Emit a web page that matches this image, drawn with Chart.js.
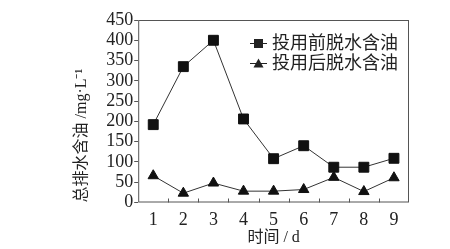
<!DOCTYPE html>
<html>
<head>
<meta charset="utf-8">
<script src="https://cdn.jsdelivr.net/npm/chart.js@4"></script>
<style>
  html, body { margin: 0; padding: 0; background: #fff; }
  #wrap { width: 450px; height: 249px; }
</style>
</head>
<body>
<div id="wrap"><canvas id="oilChart"></canvas></div>
<script>
// Chart data
const days = ["1", "2", "3", "4", "5", "6", "7", "8", "9"];
const beforeLabel = "投用前脱水含油";
const afterLabel = "投用后脱水含油";
const beforeValues = [192, 335, 400, 206, 108, 140, 87, 87, 109];
const afterValues = [66, 23, 48, 28, 28, 32, 62, 27, 61];
const yTicks = [0, 50, 100, 150, 200, 250, 300, 350, 400, 450];

const FONT = "'Liberation Serif', 'Noto Sans CJK SC', serif";
const INK = "#222";

// Frame, inward x ticks and the in-plot legend
const framePlugin = {
  id: "frame",
  afterDatasetsDraw(chart) {
    const { ctx, chartArea: a, scales } = chart;
    ctx.save();
    ctx.strokeStyle = "#555";
    ctx.lineWidth = 1;
    ctx.strokeRect(a.left + 0.5, a.top + 0.5, a.right - a.left - 1, a.bottom - a.top - 1);

    // short inward tick marks between days
    const x = scales.x;
    ctx.beginPath();
    for (let i = 0; i < days.length - 1; i++) {
      const px = Math.round((x.getPixelForValue(i) + x.getPixelForValue(i + 1)) / 2) + 0.5;
      ctx.moveTo(px, a.bottom);
      ctx.lineTo(px, a.bottom - 4);
    }
    ctx.stroke();

    // legend
    ctx.font = "18px " + FONT;
    ctx.textBaseline = "middle";
    ctx.fillStyle = INK;
    chart.data.datasets.forEach((ds, i) => {
      const y = a.top + 23 + i * 20;
      const x0 = 250;
      ctx.strokeStyle = INK;
      ctx.beginPath();
      ctx.moveTo(x0, y + 0.5);
      ctx.lineTo(x0 + 17, y + 0.5);
      ctx.stroke();
      if (ds.pointStyle === "rect") {
        ctx.fillRect(x0 + 4, y - 4, 9, 9);
      } else {
        ctx.beginPath();
        ctx.moveTo(x0 + 8.5, y - 4.5);
        ctx.lineTo(x0 + 13.5, y + 4.5);
        ctx.lineTo(x0 + 3.5, y + 4.5);
        ctx.closePath();
        ctx.fill();
      }
      ctx.fillText(ds.label, x0 + 22, y + 1);
    });
    ctx.restore();
  }
};

function renderOilChart() {
  const ctx = document.getElementById("oilChart").getContext("2d");
  new Chart(ctx, {
    type: "line",
    data: {
      labels: days,
      datasets: [
        {
          label: beforeLabel,
          data: beforeValues,
          borderColor: "#333",
          borderWidth: 1,
          pointStyle: "rect",
          pointRadius: 7,
          pointBackgroundColor: "#111",
          pointBorderColor: "#111",
          tension: 0,
        },
        {
          label: afterLabel,
          data: afterValues,
          borderColor: "#333",
          borderWidth: 1,
          pointStyle: "triangle",
          pointRadius: 6,
          pointBackgroundColor: "#111",
          pointBorderColor: "#111",
          tension: 0,
        },
      ],
    },
    options: {
      responsive: true,
      maintainAspectRatio: false,
      animation: false,
      devicePixelRatio: 1,
      layout: { padding: { left: 72, right: 41, top: 20, bottom: 0 } },
      plugins: {
        legend: { display: false },
        tooltip: { enabled: false },
      },
      scales: {
        x: {
          type: "category",
          offset: true,
          grid: { display: false, drawOnChartArea: false },
          border: { display: false },
          ticks: { color: INK, font: { family: FONT, size: 18, lineHeight: 1.05 }, padding: 0, maxRotation: 0 },
          title: {
            display: true,
            text: "时间 / d",
            color: INK,
            font: { family: FONT, size: 16, lineHeight: 1.1 },
            padding: { top: 0, bottom: 2 },
          },
        },
        y: {
          min: 0,
          max: 450,
          afterBuildTicks: (axis) => { axis.ticks = yTicks.map(v => ({ value: v })); },
          grid: { drawOnChartArea: false, tickLength: 4, color: "#555" },
          border: { display: false },
          ticks: { color: INK, font: { family: FONT, size: 18 }, padding: 1, autoSkip: false },
          title: {
            display: true,
            align: "start",
            text: "总排水含油 /mg·L⁻¹",
            color: INK,
            font: { family: FONT, size: 16 },
            padding: { top: 0, bottom: 14 },
          },
        },
      },
    },
    plugins: [framePlugin],
  });
}

renderOilChart();
</script>
</body>
</html>
